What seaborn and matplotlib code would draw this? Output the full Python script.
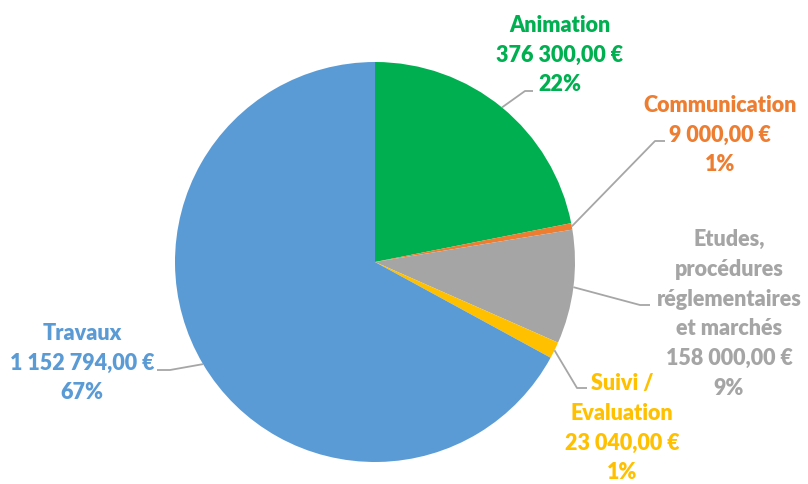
import numpy as np
import matplotlib.pyplot as plt
import seaborn as sns

# Budget breakdown
categories = ["Animation", "Communication",
              "Etudes,\nprocédures\nréglementaires\net marchés",
              "Suivi /\nEvaluation", "Travaux"]
amounts = [376300, 9000, 158000, 23040, 1152794]
amount_labels = ["376 300,00 €", "9 000,00 €", "158 000,00 €", "23 040,00 €", "1 152 794,00 €"]
pct_labels = ["22%", "1%", "9%", "1%", "67%"]
colors = ["#00B050", "#ED7D31", "#A5A5A5", "#FFC000", "#5B9BD5"]

sns.set_theme(style="white")
plt.rcParams['font.family'] = ['Lato', 'DejaVu Sans']

W, H = 808, 484
fig = plt.figure(figsize=(W / 100, H / 100), dpi=100)
ax = fig.add_axes([0, 0, 1, 1])

cx, cy, r = 375, H - 262, 200
wedges, _ = ax.pie(amounts, colors=colors, startangle=90, counterclock=False,
                   center=(cx, cy), radius=r, wedgeprops=dict(linewidth=0))
ax.set_xlim(0, W)
ax.set_ylim(0, H)
ax.set_aspect('equal')
ax.axis('off')

# label centres (pixels from top-left) and leader-line elbows
label_pos = [(560, 55), (720, 135), (729, 314), (622, 428), (82, 363)]
elbows = [[(525, 91), (533, 91)],
          [(655, 141), (665, 141)],
          [(640, 305), (650, 305)],
          [(577, 388), (587, 388)],
          [(170, 370), (157, 370)]]

fracs = np.array(amounts) / sum(amounts)
starts = np.concatenate([[0], np.cumsum(fracs)[:-1]])
for i, cat in enumerate(categories):
    mid = np.deg2rad(90 - 360 * (starts[i] + fracs[i] / 2))
    x0, y0 = cx + r * np.cos(mid), cy + r * np.sin(mid)
    xs = [x0] + [p[0] for p in elbows[i]]
    ys = [y0] + [H - p[1] for p in elbows[i]]
    ax.plot(xs, ys, color="#A6A6A6", lw=1.3, solid_capstyle='butt')
    lx, ly = label_pos[i]
    ax.text(lx, H - ly, f"{cat}\n{amount_labels[i]}\n{pct_labels[i]}",
            ha='center', va='center', fontsize=15.5, fontweight='heavy',
            color=colors[i], linespacing=1.52)

fig.savefig("out.png", dpi=100)
